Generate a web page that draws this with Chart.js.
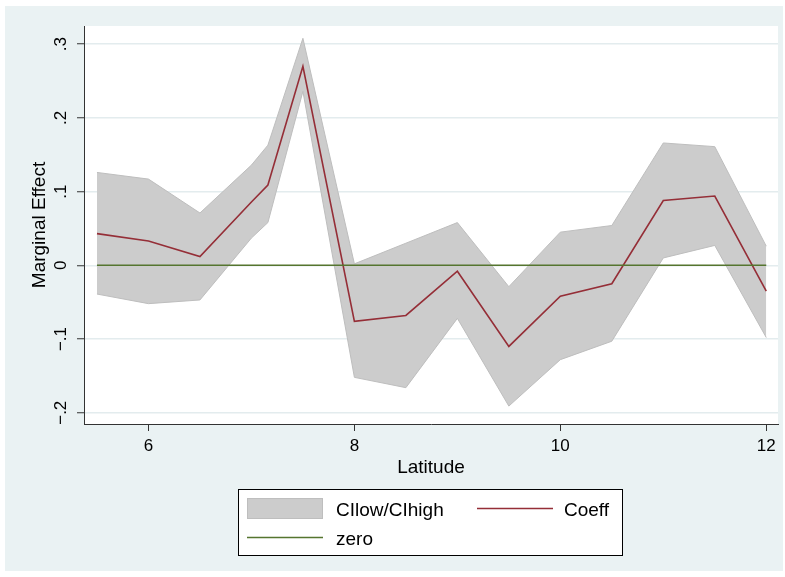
<!DOCTYPE html>
<html>
<head>
<meta charset="utf-8">
<script src="https://cdn.jsdelivr.net/npm/chart.js@4/dist/chart.umd.min.js"></script>
<style>
  html, body { margin: 0; padding: 0; background: #fff; }
  canvas { display: block; }
</style>
</head>
<body>
<canvas id="c" width="785" height="577"></canvas>
<script>
// Latitude grid and estimated marginal effects with confidence bounds
const latitude = [5.5, 6, 6.5, 7, 7.16, 7.5, 8, 8.5, 9, 9.5, 10, 10.5, 11, 11.5, 12];
const coeff    = [0.043, 0.033, 0.012, 0.086, 0.109, 0.270, -0.076, -0.068, -0.008, -0.110, -0.042, -0.025, 0.088, 0.094, -0.035];
const ciHigh   = [0.126, 0.117, 0.071, 0.136, 0.163, 0.308, 0.002, 0.030, 0.058, -0.029, 0.045, 0.054, 0.166, 0.161, 0.026];
const ciLow    = [-0.039, -0.052, -0.047, 0.037, 0.058, 0.236, -0.152, -0.166, -0.072, -0.191, -0.128, -0.103, 0.010, 0.027, -0.098];
const zero     = [0, 0, 0, 0, 0, 0, 0, 0, 0, 0, 0, 0, 0, 0, 0];

const xTicks = [6, 8, 10, 12];
const yTicks = [-0.2, -0.1, 0, 0.1, 0.2, 0.3];
const yTickLabels = ['\u2212.2', '\u2212.1', '0', '.1', '.2', '.3'];

const seriesNames = { band: 'CIlow/CIhigh', coeff: 'Coeff', zero: 'zero' };

const FONT = '"Liberation Sans", Arial, Helvetica, sans-serif';
const BG = '#EAF2F3';
const BAND = '#CCCCCC';
const BAND_EDGE = '#BEBEBE';
const MAROON = '#952E37';
const GREEN = '#55752F';
const AXIS = '#333333';

const pts = ys => latitude.map((x, i) => ({ x, y: ys[i] }));

// Backgrounds, rotated y labels, axis titles and the legend box
const frame = {
  id: 'frame',
  beforeDraw(chart) {
    const { ctx, chartArea: a } = chart;
    ctx.save();
    ctx.fillStyle = '#ffffff';
    ctx.fillRect(0, 0, chart.width, chart.height);
    ctx.fillStyle = BG;
    ctx.fillRect(5, 6, 778, 565);
    ctx.fillStyle = '#ffffff';
    ctx.fillRect(a.left, a.top, a.right - a.left, a.bottom - a.top);
    ctx.restore();
  },
  afterDraw(chart) {
    const { ctx, chartArea: a } = chart;
    const ys = chart.scales.y;
    ctx.save();
    ctx.fillStyle = '#000';

    // y tick labels, written vertically
    ctx.font = '17px ' + FONT;
    ctx.textAlign = 'center';
    ctx.textBaseline = 'alphabetic';
    yTicks.forEach((v, i) => {
      ctx.save();
      ctx.translate(66, ys.getPixelForValue(v));
      ctx.rotate(-Math.PI / 2);
      ctx.fillText(yTickLabels[i], 0, 0);
      ctx.restore();
    });

    // axis titles
    ctx.font = '19px ' + FONT;
    ctx.save();
    ctx.translate(45, (a.top + a.bottom) / 2);
    ctx.rotate(-Math.PI / 2);
    ctx.fillText('Marginal Effect', 0, 0);
    ctx.restore();
    ctx.fillText('Latitude', (a.left + a.right) / 2, 473);

    // legend
    ctx.fillStyle = '#ffffff';
    ctx.fillRect(238.5, 489.5, 384, 66);
    ctx.strokeStyle = '#000';
    ctx.lineWidth = 1;
    ctx.strokeRect(238.5, 489.5, 384, 66);

    ctx.fillStyle = BAND;
    ctx.fillRect(247, 498, 76, 21);
    ctx.strokeStyle = BAND_EDGE;
    ctx.strokeRect(247.5, 498.5, 75, 20);

    ctx.lineWidth = 1.6;
    ctx.strokeStyle = MAROON;
    ctx.beginPath(); ctx.moveTo(477, 508.5); ctx.lineTo(553, 508.5); ctx.stroke();
    ctx.strokeStyle = GREEN;
    ctx.beginPath(); ctx.moveTo(247, 537.5); ctx.lineTo(323, 537.5); ctx.stroke();

    ctx.fillStyle = '#000';
    ctx.textAlign = 'left';
    ctx.fillText(seriesNames.band, 336, 516);
    ctx.fillText(seriesNames.coeff, 564, 516);
    ctx.fillText(seriesNames.zero, 336, 545);
    ctx.restore();
  }
};

new Chart(document.getElementById('c'), {
  type: 'line',
  data: {
    datasets: [
      { label: 'CIhigh', data: pts(ciHigh), order: 4, fill: '+1',
        backgroundColor: BAND, borderColor: BAND_EDGE, borderWidth: 1 },
      { label: 'CIlow', data: pts(ciLow), order: 3, fill: false,
        borderColor: BAND_EDGE, borderWidth: 1 },
      { label: seriesNames.coeff, data: pts(coeff), order: 2, fill: false,
        borderColor: MAROON, borderWidth: 1.6 },
      { label: seriesNames.zero, data: pts(zero), order: 1, fill: false,
        borderColor: GREEN, borderWidth: 1.6 }
    ]
  },
  options: {
    responsive: false,
    animation: false,
    events: [],
    elements: { point: { radius: 0 }, line: { tension: 0 } },
    layout: { padding: { left: 0, top: 26, right: 7, bottom: 0 } },
    plugins: { legend: { display: false }, tooltip: { enabled: false }, title: { display: false } },
    scales: {
      x: {
        type: 'linear',
        min: 5.374, max: 12.114,
        afterBuildTicks: s => { s.ticks = xTicks.map(v => ({ value: v })); },
        afterFit: s => { s.height = 153; },
        grid: { drawOnChartArea: false, drawTicks: true, tickLength: 7, tickColor: AXIS, tickWidth: 1 },
        border: { display: true, color: AXIS, width: 1 },
        ticks: { color: '#000', font: { family: FONT, size: 17 }, padding: 5, maxRotation: 0,
                 callback: v => String(v) }
      },
      y: {
        type: 'linear',
        min: -0.2153, max: 0.3247,
        afterBuildTicks: s => { s.ticks = yTicks.map(v => ({ value: v })); },
        afterFit: s => { s.width = 84; },
        grid: { color: '#E3ECEE', lineWidth: 1.5, drawTicks: true, tickLength: 7, tickColor: AXIS, tickWidth: 1 },
        border: { display: true, color: AXIS, width: 1 },
        ticks: { display: false }
      }
    }
  },
  plugins: [frame]
});
</script>
</body>
</html>
